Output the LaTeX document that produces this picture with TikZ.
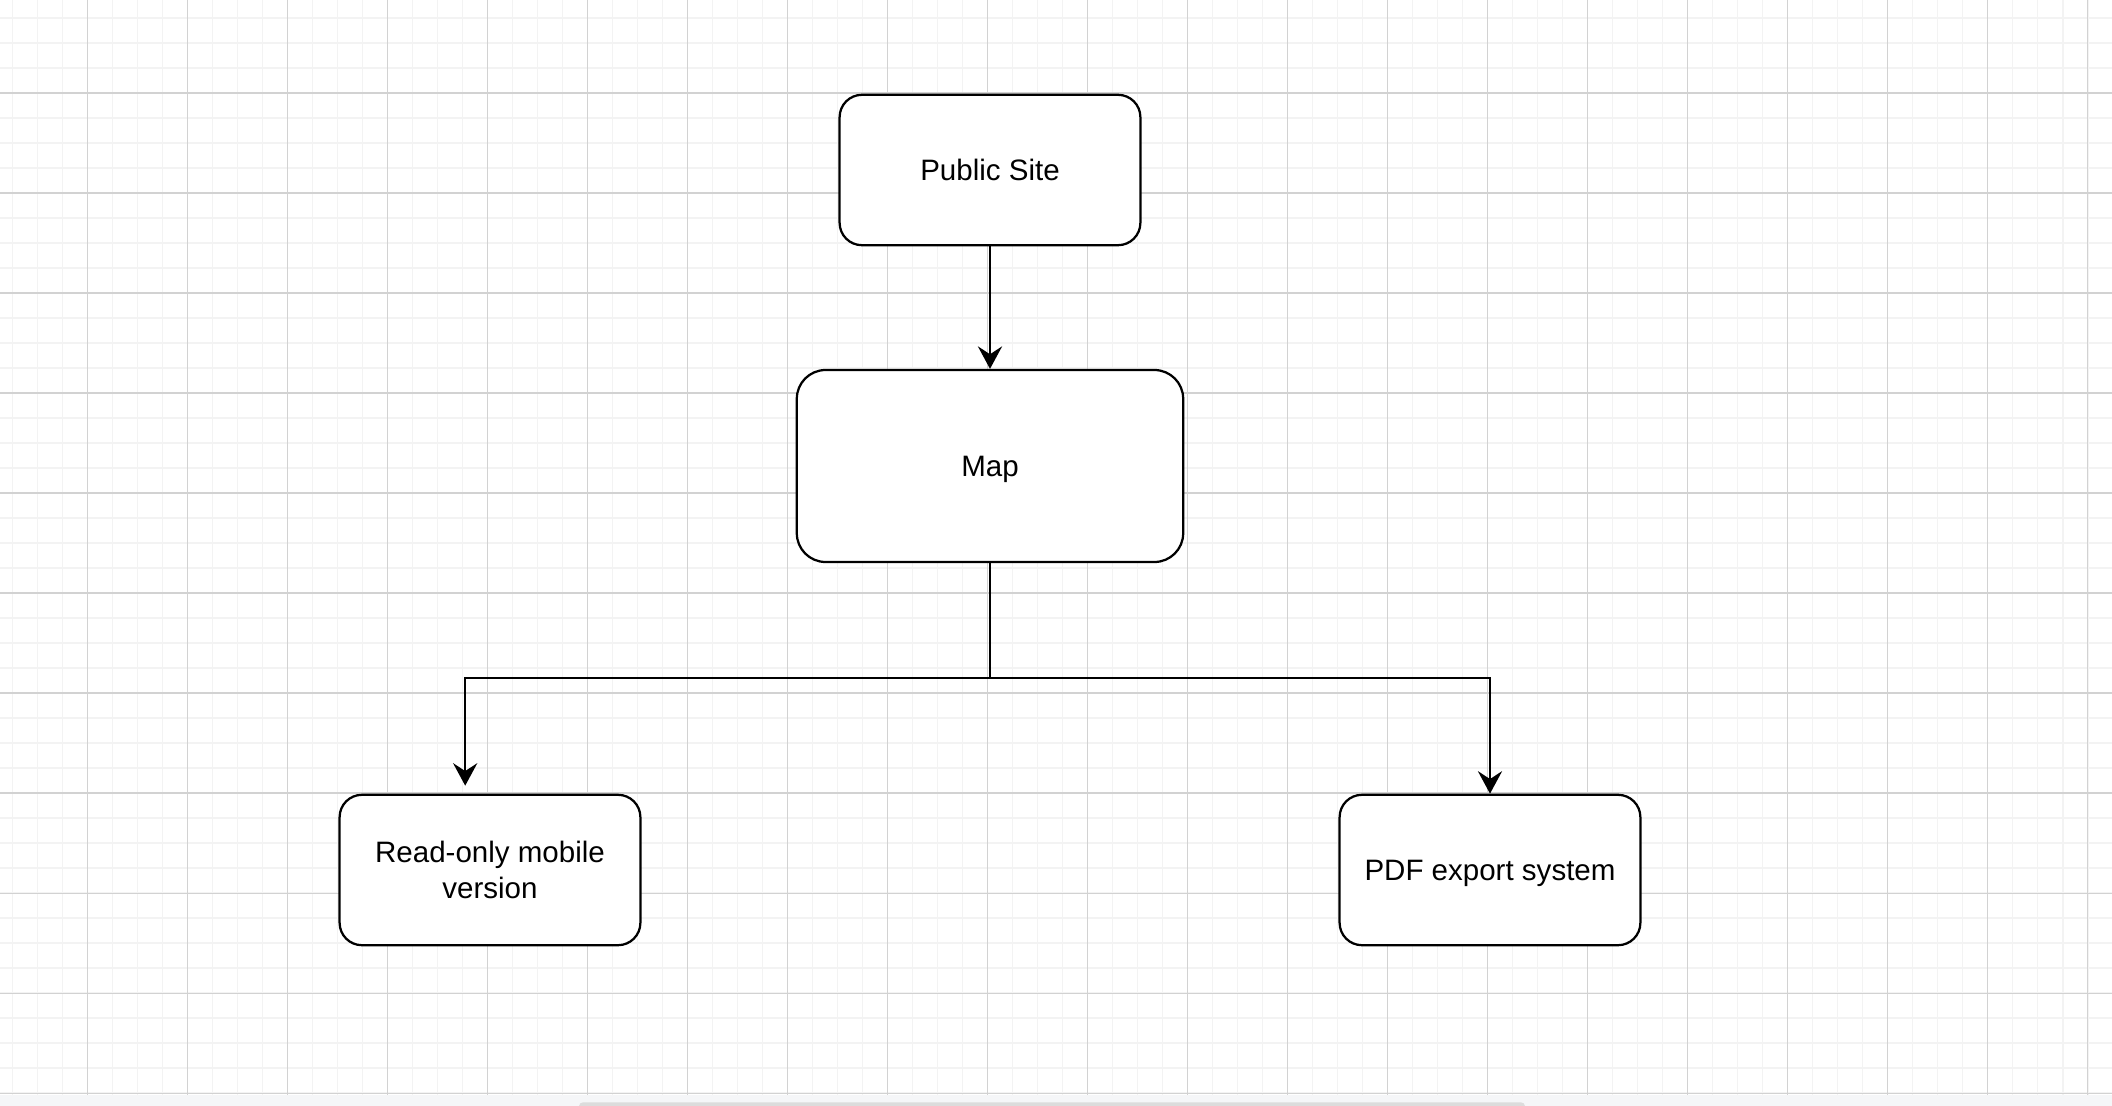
\documentclass[tikz,border=0pt]{standalone}
\usepackage{fontspec}
\setmainfont{Liberation Sans}
\usepackage{xcolor}
\usepackage{tikz}
\usetikzlibrary{arrows.meta,calc}
\definecolor{gridmajor}{HTML}{D2D2D2}
\definecolor{gridminor}{HTML}{F3F3F3}
\definecolor{strip}    {HTML}{F5F6F8}
\definecolor{thumb}    {HTML}{DCDCDC}

\begin{document}
\begin{tikzpicture}[x=1.25cm,y=-1.25cm,font=\fontsize{10.5}{12.8}\selectfont,
    blk/.style={draw,line width=0.8pt,fill=white,rounded corners=0.28cm,
                minimum width=3.76cm,minimum height=1.88cm,align=center,
                inner sep=0pt,text depth=0pt},
    link/.style={line width=0.8pt,-{Stealth[length=8pt,width=8.6pt,inset=2.8pt]}}]
  \useasboundingbox (0,0) rectangle (21.12,11.06);
  \clip (0,0) rectangle (21.12,11.06);
  \fill[white] (0,0) rectangle (21.12,10.95);
  \foreach \i in {0,...,83}{
    \draw[gridminor,line width=0.7pt] (0.125+0.25*\i,0) -- (0.125+0.25*\i,10.95);}
  \foreach \j in {0,...,43}{
    \draw[gridminor,line width=0.7pt] (0,0.18+0.25*\j) -- (21.12,0.18+0.25*\j);}
  \foreach \i in {0,...,20}{
    \draw[gridmajor,line width=0.36pt] (0.875+\i,0) -- (0.875+\i,10.95);}
  \foreach \j in {0,...,10}{
    \draw[gridmajor,line width=0.36pt] (0,0.93+\j) -- (21.12,0.93+\j);}
  \fill[strip] (0,10.95) rectangle (21.12,11.06);
  \fill[thumb,rounded corners=0.05cm] (5.79,11.023) rectangle (15.25,11.12);

  \node[blk] (pub) at (9.9,1.70) {Public Site};
  \node[blk,minimum width=4.83cm,minimum height=2.40cm,rounded corners=0.36cm]
       (map) at (9.9,4.66) {Map};
  \node[blk] (ro)  at (4.9,8.70)  {Read-only mobile\\version};
  \node[blk] (pdf) at (14.9,8.70) {PDF export system};
  \coordinate (split) at (9.9,6.783);

  \draw[link] (pub.south) -- (map.north);
  \draw[link] (map.south) -- (split) -| ([xshift=-0.31cm,yshift=0.1cm]ro.north);
  \draw[link] (split) -| (pdf.north);
\end{tikzpicture}
\end{document}
